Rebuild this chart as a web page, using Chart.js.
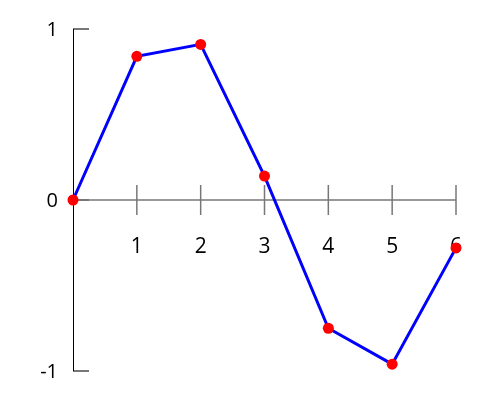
<!DOCTYPE html>
<html>
<head>
<meta charset="utf-8">
<script src="https://cdn.jsdelivr.net/npm/chart.js@4"></script>
<style>
  html, body { margin: 0; padding: 0; background: #fff; }
  #wrap { width: 500px; height: 400px; }
</style>
</head>
<body>
<div id="wrap"><canvas id="c"></canvas></div>
<script>
// data
const xs = [0, 1, 2, 3, 4, 5, 6];
const ys = [0, 0.84, 0.91, 0.14, -0.75, -0.96, -0.28];
const xTicks = [1, 2, 3, 4, 5, 6];
const yTicks = [1, 0, -1];

// axes are drawn by hand at x=0 / y=0, but positions come from the chart's scales
const crossAxes = {
    id: 'crossAxes',
    beforeDatasetsDraw(chart) {
        const ctx = chart.ctx;
        const sx = chart.scales.x, sy = chart.scales.y;
        const x0 = sx.getPixelForValue(0);
        const y0 = sy.getPixelForValue(0);
        ctx.save();
        ctx.lineCap = 'butt';

        // horizontal axis
        ctx.strokeStyle = '#777';
        ctx.lineWidth = 1.5;
        ctx.beginPath();
        ctx.moveTo(x0, y0);
        ctx.lineTo(sx.getPixelForValue(6), y0);
        ctx.stroke();

        // x ticks
        xTicks.forEach(v => {
            const px = sx.getPixelForValue(v);
            ctx.beginPath();
            ctx.moveTo(px, y0 - 15);
            ctx.lineTo(px, y0 + 15);
            ctx.stroke();
        });

        // y ticks
        ctx.lineWidth = 2;
        yTicks.forEach(v => {
            const py = sy.getPixelForValue(v);
            ctx.beginPath();
            ctx.moveTo(x0, py);
            ctx.lineTo(x0 + 16, py);
            ctx.stroke();
        });

        // vertical axis
        ctx.strokeStyle = '#000';
        ctx.lineWidth = 1;
        ctx.beginPath();
        ctx.moveTo(x0 + 0.5, sy.getPixelForValue(1));
        ctx.lineTo(x0 + 0.5, sy.getPixelForValue(-1));
        ctx.stroke();

        // labels
        ctx.fillStyle = '#000';
        ctx.font = '21px "Open Sans"';
        ctx.textBaseline = 'middle';
        ctx.textAlign = 'center';
        xTicks.forEach(v => {
            ctx.fillText(String(v), sx.getPixelForValue(v), y0 + 47);
        });
        ctx.font = '20px "Open Sans"';
        ctx.textAlign = 'right';
        yTicks.forEach(v => {
            ctx.fillText(String(v), x0 - 15, sy.getPixelForValue(v) + 1);
        });
        ctx.restore();
    }
};

new Chart(document.getElementById('c'), {
    type: 'line',
    data: {
        datasets: [{
            data: xs.map((x, i) => ({ x: x, y: ys[i] })),
            borderColor: '#0000ff',
            borderWidth: 3,
            pointBackgroundColor: '#ff0000',
            pointBorderColor: '#ff0000',
            pointRadius: 5.5,
            pointBorderWidth: 0,
            tension: 0,
            clip: false
        }]
    },
    options: {
        responsive: true,
        maintainAspectRatio: false,
        animation: false,
        layout: { padding: { left: 73, right: 44, top: 29, bottom: 29 } },
        plugins: {
            legend: { display: false },
            tooltip: { enabled: false }
        },
        scales: {
            x: { type: 'linear', min: 0, max: 6, display: false },
            y: { min: -1, max: 1, display: false }
        }
    },
    plugins: [crossAxes]
});
</script>
</body>
</html>
